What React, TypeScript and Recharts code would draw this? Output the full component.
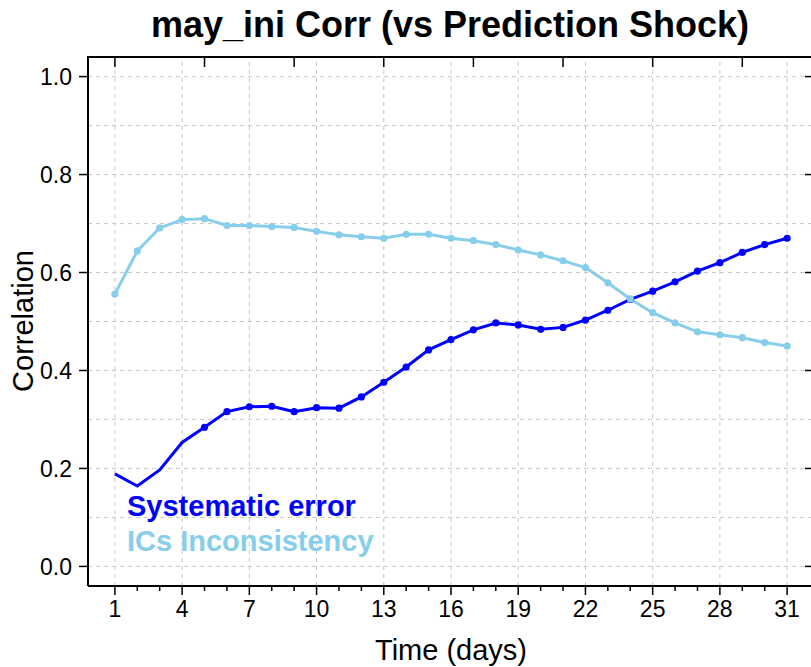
import React from 'react';
import { LineChart, Line, XAxis, YAxis, CartesianGrid, ReferenceLine } from 'recharts';

const FONT = '"Liberation Sans", Arial, Helvetica, sans-serif';
const SYS_COLOR = '#0000FF';
const ICS_COLOR = '#87CEEB';
const GRID_COLOR = '#c8c8c8';

const days = [1, 2, 3, 4, 5, 6, 7, 8, 9, 10, 11, 12, 13, 14, 15, 16, 17, 18, 19, 20, 21, 22, 23, 24, 25, 26, 27, 28, 29, 30, 31];
const systematicError = [
  0.189, 0.164, 0.197, 0.253, 0.284, 0.316, 0.326, 0.327, 0.316, 0.324, 0.323, 0.346, 0.376, 0.407, 0.442, 0.463,
  0.483, 0.497, 0.493, 0.484, 0.488, 0.503, 0.523, 0.545, 0.562, 0.581, 0.603, 0.62, 0.641, 0.657, 0.67,
];
// points drawn with a marker (the first days have none)
const systematicErrorMarked = [0, 0, 0, 0, 1, 1, 1, 1, 1, 1, 1, 1, 1, 1, 1, 1, 1, 1, 1, 1, 1, 1, 1, 1, 1, 1, 1, 1, 1, 1, 1];
const icsInconsistency = [
  0.556, 0.644, 0.691, 0.708, 0.71, 0.696, 0.696, 0.694, 0.692, 0.684, 0.677, 0.673, 0.67, 0.678, 0.678, 0.67,
  0.665, 0.657, 0.646, 0.636, 0.624, 0.61, 0.579, 0.546, 0.518, 0.497, 0.479, 0.473, 0.467, 0.457, 0.45,
];

const xMajorTicks = [1, 4, 7, 10, 13, 16, 19, 22, 25, 28, 31];
const xTopTicks = [1, 5, 9, 13, 17, 21, 25, 29];
const yGridTicks = [0, 0.1, 0.2, 0.3, 0.4, 0.5, 0.6, 0.7, 0.8, 0.9, 1.0];
const yMajorTicks = [0, 0.2, 0.4, 0.6, 0.8, 1.0];
const xDomain = [-0.2, 32.2];
const yDomain = [-0.04, 1.04];

// layout
const CHART_W = 830;
const CHART_H = 667;
const MARGIN = { top: 57, right: 16, bottom: 0, left: 0 };
const XAXIS_H = 81;
const YAXIS_W = 88;
const PLOT_W = CHART_W - MARGIN.left - MARGIN.right - YAXIS_W;
const PLOT_H = CHART_H - MARGIN.top - MARGIN.bottom - XAXIS_H;

const data = days.map((d, i) => ({
  day: d,
  sys: systematicError[i],
  ics: icsInconsistency[i],
}));

const isMajorY = (v: number) => yMajorTicks.some((t) => Math.abs(t - v) < 1e-6);

const BottomTick = (props: any) => {
  const { x, y, payload } = props;
  const major = xMajorTicks.includes(payload.value);
  const top = xTopTicks.includes(payload.value);
  return (
    <g key={`bx-${payload.value}`}>
      <line x1={x} x2={x} y1={y} y2={y + (major ? 9 : 5)} stroke="#000" strokeWidth={1.5} />
      {top && <line x1={x} x2={x} y1={y - PLOT_H} y2={y - PLOT_H + 10} stroke="#000" strokeWidth={1.5} />}
      {major && (
        <text x={x} y={y + 31} textAnchor="middle" fontSize={23} fontFamily={FONT} fill="#000">
          {payload.value}
        </text>
      )}
    </g>
  );
};

const LeftTick = (props: any) => {
  const { x, y, payload } = props;
  if (!isMajorY(payload.value)) return <g key={`ly-${payload.value}`} />;
  return (
    <g key={`ly-${payload.value}`}>
      <line x1={x - 9} x2={x} y1={y} y2={y} stroke="#000" strokeWidth={1.5} />
      <line x1={x + PLOT_W - 9} x2={x + PLOT_W} y1={y} y2={y} stroke="#000" strokeWidth={1.5} />
      <text x={x - 16} y={y} dy="0.36em" textAnchor="end" fontSize={23} fontFamily={FONT} fill="#000">
        {payload.value.toFixed(1)}
      </text>
    </g>
  );
};

const SysDot = (props: any) => {
  const { cx, cy, index } = props;
  if (!systematicErrorMarked[index]) return <g key={`sd-${index}`} />;
  return <circle key={`sd-${index}`} cx={cx} cy={cy} r={3.6} fill={SYS_COLOR} stroke="none" />;
};

const IcsDot = (props: any) => {
  const { cx, cy, index } = props;
  return <circle key={`id-${index}`} cx={cx} cy={cy} r={3.6} fill={ICS_COLOR} stroke="none" />;
};

export default function App() {
  const axisLine = { stroke: '#000', strokeWidth: 2 };
  return (
    <div style={{ position: 'absolute', left: 0, top: 0, width: 811, height: 667, overflow: 'hidden', background: '#fff' }}>
      <LineChart width={CHART_W} height={CHART_H} data={data} margin={MARGIN}>
        <CartesianGrid stroke={GRID_COLOR} strokeDasharray="4 4" vertical={false} />
        {xMajorTicks.map((t) => (
          <ReferenceLine key={`vg-${t}`} x={t} stroke={GRID_COLOR} strokeDasharray="4 4" strokeWidth={1} />
        ))}
        <XAxis
          dataKey="day"
          type="number"
          domain={xDomain}
          allowDataOverflow
          ticks={days}
          interval={0}
          height={XAXIS_H}
          tickSize={0}
          tickMargin={0}
          tickLine={false}
          axisLine={axisLine}
          tick={BottomTick}
        />
        <YAxis
          type="number"
          domain={yDomain}
          allowDataOverflow
          ticks={yGridTicks}
          interval={0}
          width={YAXIS_W}
          tickSize={0}
          tickMargin={0}
          tickLine={false}
          axisLine={axisLine}
          tick={LeftTick}
        />
        <Line
          dataKey="sys"
          name="Systematic error"
          stroke={SYS_COLOR}
          strokeWidth={3}
          dot={SysDot}
          activeDot={false}
          isAnimationActive={false}
        />
        <Line
          dataKey="ics"
          name="ICs Inconsistency"
          stroke={ICS_COLOR}
          strokeWidth={3}
          dot={IcsDot}
          activeDot={false}
          isAnimationActive={false}
        />
      </LineChart>
      <svg width={811} height={667} style={{ position: 'absolute', left: 0, top: 0, pointerEvents: 'none' }}>
        {/* top edge of the plot frame */}
        <line
          x1={MARGIN.left + YAXIS_W - 1}
          x2={MARGIN.left + YAXIS_W + PLOT_W}
          y1={MARGIN.top}
          y2={MARGIN.top}
          stroke="#000"
          strokeWidth={2}
        />
        <text x={450} y={37} textAnchor="middle" fontSize={36} fontWeight="bold" fontFamily={FONT} fill="#000">
          may_ini Corr (vs Prediction Shock)
        </text>
        <text x={451} y={660} textAnchor="middle" fontSize={29} fontFamily={FONT} fill="#000">
          Time (days)
        </text>
        <text x={33} y={321} transform="rotate(-90 33 321)" textAnchor="middle" fontSize={29} fontFamily={FONT} fill="#000">
          Correlation
        </text>
        <text x={127} y={516} fontSize={29} fontWeight="bold" fontFamily={FONT} fill={SYS_COLOR}>
          Systematic error
        </text>
        <text x={127} y={551} fontSize={29} fontWeight="bold" fontFamily={FONT} fill={ICS_COLOR}>
          ICs Inconsistency
        </text>
      </svg>
    </div>
  );
}
